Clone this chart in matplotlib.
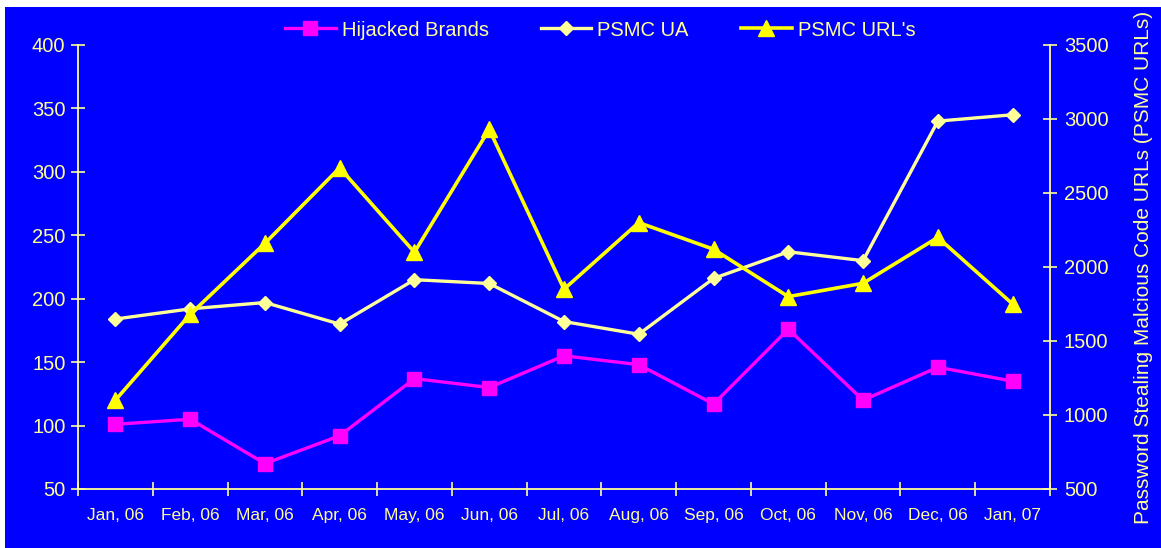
import numpy as np
import matplotlib.pyplot as plt
from matplotlib.patches import Rectangle
from matplotlib.ticker import FixedLocator

plt.rcParams['font.family'] = ['Liberation Sans', 'DejaVu Sans']

months = ['Jan, 06', 'Feb, 06', 'Mar, 06', 'Apr, 06', 'May, 06', 'Jun, 06', 'Jul, 06',
          'Aug, 06', 'Sep, 06', 'Oct, 06', 'Nov, 06', 'Dec, 06', 'Jan, 07']
hijacked = [101, 105, 70, 92, 137, 130, 155, 148, 117, 176, 120, 146, 135]
psmc_ua = [184, 192, 197, 180, 215, 212, 182, 172, 216, 237, 230, 340, 345]
psmc_urls = [1100, 1680, 2160, 2670, 2100, 2930, 1850, 2300, 2120, 1800, 1890, 2200, 1750]

left_ticks = [50, 100, 150, 200, 250, 300, 350, 400]
right_ticks = [500, 1000, 1500, 2000, 2500, 3000, 3500]

BG = '#0000FF'
PALE = '#FFFF99'
W, H = 1161, 548

fig = plt.figure(figsize=(W / 100, H / 100), dpi=100, facecolor='white')
fig.patches.append(Rectangle((5 / W, 0), 1, 1 - 7 / H, transform=fig.transFigure,
                             facecolor=BG, edgecolor='none', zorder=-10))

ax = fig.add_axes([78 / W, 1 - 489 / H, (1050 - 78) / W, (489 - 45) / H])
ax.set_facecolor(BG)
ax2 = ax.twinx()

x = np.arange(len(months))
l1, = ax.plot(x, hijacked, color='#FF00FF', lw=2.4, marker='s', ms=10.5,
              mec='#FF00FF', mfc='#FF00FF', label='Hijacked Brands')
l2, = ax.plot(x, psmc_ua, color=PALE, lw=2.4, marker='D', ms=7.5,
              mec=PALE, mfc=PALE, label='PSMC UA')
l3, = ax2.plot(x, psmc_urls, color='#FFFF00', lw=2.6, marker='^', ms=11,
               mec='#FFFF00', mfc='#FFFF00', label="PSMC URL's")

ax.set_xlim(-0.5, len(months) - 0.5)
ax.set_ylim(50, 400)
ax2.set_ylim(500, 3500)
ax.set_yticks(left_ticks)
ax2.set_yticks(right_ticks)

ax.set_xticks(x)
ax.set_xticklabels(months)
ax.xaxis.set_minor_locator(FixedLocator(np.arange(-0.5, len(months), 1.0)))
ax.tick_params(axis='x', which='major', length=0, pad=14, labelsize=12.5, colors=PALE)
ax.tick_params(axis='x', which='minor', direction='inout', length=10, width=1.2, color=PALE)
ax.tick_params(axis='y', direction='inout', length=10, width=1.2, color=PALE,
               labelcolor=PALE, labelsize=14.5, pad=4)
ax2.tick_params(axis='y', direction='inout', length=10, width=1.2, color=PALE,
                labelcolor=PALE, labelsize=14.5, pad=5)

for a in (ax, ax2):
    a.spines['top'].set_visible(False)
    for s in ('left', 'right', 'bottom'):
        a.spines[s].set_color(PALE)
        a.spines[s].set_linewidth(1.3)
ax.spines['right'].set_visible(False)
ax2.spines['left'].set_visible(False)
ax2.spines['bottom'].set_visible(False)

ax2.set_ylabel('Password Stealing Malcious Code URLs (PSMC URLs)', color=PALE,
               fontsize=15, labelpad=18)

leg = fig.legend(handles=[l1, l2, l3], loc='center', bbox_to_anchor=(0.517, 1 - 30 / H),
                 ncol=3, frameon=False, fontsize=14.5, handlelength=2.5,
                 columnspacing=2.6, handletextpad=0.3)
for t in leg.get_texts():
    t.set_color(PALE)

fig.savefig('out.png', dpi=100, facecolor='white')
